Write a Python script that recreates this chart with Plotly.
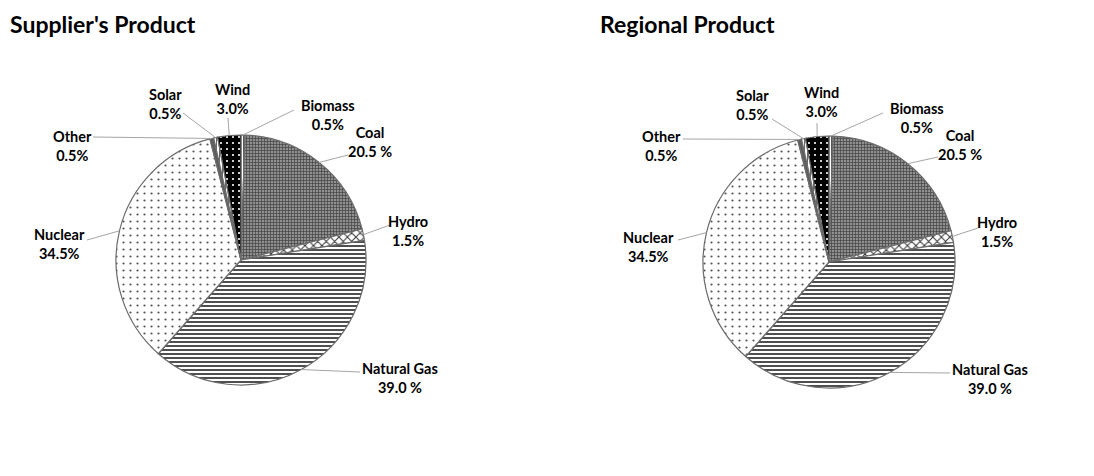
import math
import plotly.graph_objects as go

W, H = 1094, 476
PAGE_MARGIN = 8  # default body margin of the html page

sources = ['Biomass', 'Coal', 'Hydro', 'Natural Gas', 'Nuclear', 'Other', 'Solar', 'Wind']
supplier_share = [0.5, 20.5, 1.5, 39.0, 34.5, 0.5, 0.5, 3.0]
regional_share = [0.5, 20.5, 1.5, 39.0, 34.5, 0.5, 0.5, 3.0]
titles = ["Supplier's Product", 'Regional Product']

# the source sheet writes a space before % on these two
SPACED_PCT = {'Coal', 'Natural Gas'}

PATTERNS = {
    'Biomass':     dict(shape='|', bg='#ffffff', fg='#555555', size=3, solidity=0.35),
    'Coal':        dict(shape='+', bg='#8f8f8f', fg='#4a4a4a', size=3, solidity=0.45),
    'Hydro':       dict(shape='x', bg='#ffffff', fg='#333333', size=6, solidity=0.3),
    'Natural Gas': dict(shape='-', bg='#ffffff', fg='#222222', size=4, solidity=0.4),
    'Nuclear':     dict(shape='.', bg='#ffffff', fg='#555555', size=7, solidity=0.08),
    'Other':       dict(shape='|', bg='#888888', fg='#333333', size=2, solidity=0.5),
    'Solar':       dict(shape='|', bg='#ffffff', fg='#666666', size=3, solidity=0.35),
    'Wind':        dict(shape='.', bg='#000000', fg='#ffffff', size=6, solidity=0.1),
}

# pie placement in window pixels: centre x, centre y, radius
PIES = [(241, 260, 125), (829, 262, 126)]

# label block centre and leader-line end, in window pixels
LABELS = [
    {'Biomass': (328, 115, 294, 110), 'Coal': (370, 142, 348, 155), 'Hydro': (408, 231, 390, 225),
     'Natural Gas': (400, 378, 360, 372), 'Nuclear': (59, 244, 87, 240), 'Other': (72, 146, 93, 137),
     'Solar': (165, 104, 183, 113), 'Wind': (232, 99, 228, 118)},
    {'Biomass': (917, 118, 883, 113), 'Coal': (960, 145, 938, 157), 'Hydro': (997, 232, 978, 228),
     'Natural Gas': (990, 379, 950, 373), 'Nuclear': (648, 247, 678, 240), 'Other': (661, 146, 683, 139),
     'Solar': (752, 105, 772, 119), 'Wind': (821, 102, 817, 123)},
]
# Excel moved the nuclear leader away from the slice middle
ANGLE_OVERRIDE = {'Nuclear': 283.5}

FW, FH = W - 2 * PAGE_MARGIN, H - 2 * PAGE_MARGIN


def paper(x, y):
    return (x - PAGE_MARGIN) / FW, 1 - (y - PAGE_MARGIN) / FH


def mid_angles(values):
    total = sum(values)
    out, acc = [], 0
    for v in values:
        out.append((acc + v / 2) / total * 360)
        acc += v
    return out


fig = go.Figure()
shapes, annotations = [], []

for i, shares in enumerate([supplier_share, regional_share]):
    cx, cy, r = PIES[i]
    x0, y0 = paper(cx - r, cy + r)
    x1, y1 = paper(cx + r, cy - r)
    fig.add_trace(go.Pie(
        labels=sources, values=shares, sort=False, direction='clockwise', rotation=0,
        textinfo='none', hoverinfo='label+percent', showlegend=False,
        domain=dict(x=[x0, x1], y=[y0, y1]),
        marker=dict(
            colors=[PATTERNS[s]['bg'] for s in sources],
            line=dict(color='#6b6b6b', width=1.2),
            pattern=dict(
                shape=[PATTERNS[s]['shape'] for s in sources],
                bgcolor=[PATTERNS[s]['bg'] for s in sources],
                fgcolor=[PATTERNS[s]['fg'] for s in sources],
                size=[PATTERNS[s]['size'] for s in sources],
                solidity=[PATTERNS[s]['solidity'] for s in sources],
                fillmode='replace',
            ),
        ),
    ))

    for s, v, ang in zip(sources, shares, mid_angles(shares)):
        ang = ANGLE_OVERRIDE.get(s, ang)
        ex = cx + r * math.sin(math.radians(ang))
        ey = cy - r * math.cos(math.radians(ang))
        tx, ty, lx, ly = LABELS[i][s]
        ax, ay = paper(ex, ey)
        bx, by = paper(lx, ly)
        shapes.append(dict(type='line', xref='paper', yref='paper', x0=ax, y0=ay, x1=bx, y1=by,
                           line=dict(color='#a6a6a6', width=1)))
        pct = ('{:.1f} %' if s in SPACED_PCT else '{:.1f}%').format(v)
        px_, py_ = paper(tx, ty)
        annotations.append(dict(text=f'{s}<br>{pct}', x=px_, y=py_, xref='paper', yref='paper',
                                xanchor='center', yanchor='middle', showarrow=False, align='center',
                                font=dict(size=14.5, color='#000000', family='Lato', weight='bold')))

    tx, ty = paper([8, 598][i], 8)
    annotations.append(dict(text=titles[i], x=tx, y=ty, xref='paper', yref='paper',
                            xanchor='left', yanchor='top', showarrow=False,
                            font=dict(size=23, color='#000000', family='Lato', weight='bold')))

fig.update_layout(
    width=FW, height=FH,
    margin=dict(l=0, r=0, t=0, b=0),
    paper_bgcolor='white',
    plot_bgcolor='white',
    shapes=shapes,
    annotations=annotations,
)

fig.write_html('out.html')
